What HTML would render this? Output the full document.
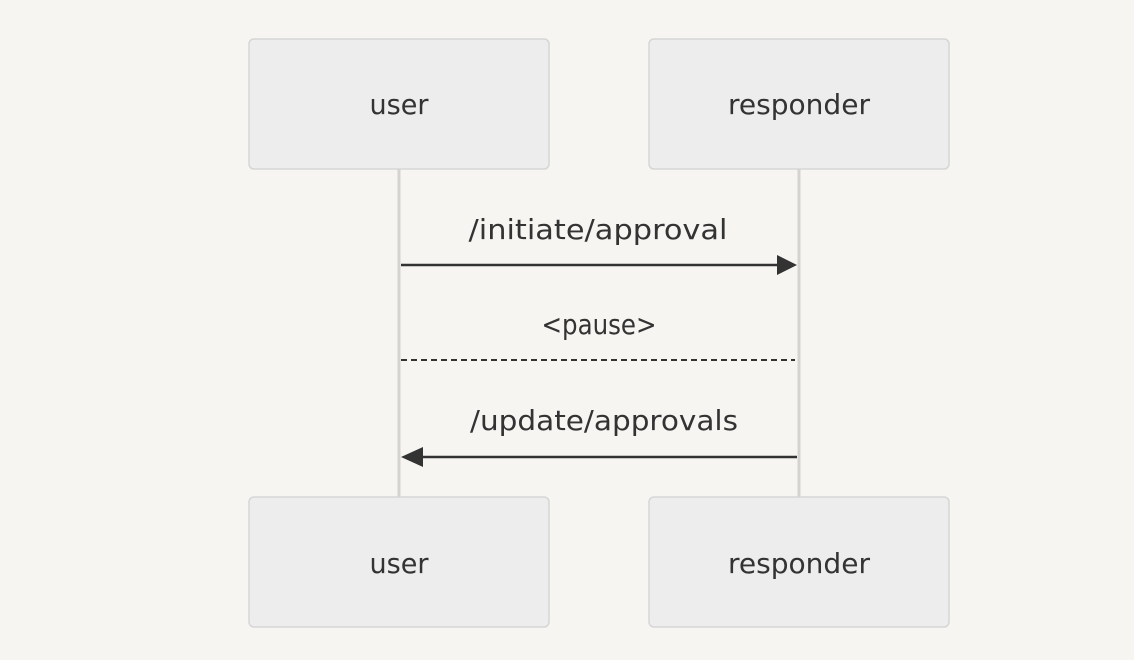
<!DOCTYPE html>
<html><head><style>
html,body{margin:0;padding:0;background:#f6f5f2;}
svg{display:block;}
text{font-family:"DejaVu Sans Condensed","DejaVu Sans","Liberation Sans",sans-serif;fill:#333;font-size:28px;}
</style></head><body>
<svg width="1134" height="660" viewBox="0 0 1134 660">
<rect width="1134" height="660" fill="#f6f5f2"/>
<line x1="399" y1="169" x2="399" y2="497" stroke="#d4d3cf" stroke-width="3"/>
<line x1="799" y1="169" x2="799" y2="497" stroke="#d4d3cf" stroke-width="3"/>
<g fill="#ededed" stroke="#d6d6d6" stroke-width="1.5">
<rect x="249" y="39" width="300" height="130" rx="5"/>
<rect x="649" y="39" width="300" height="130" rx="5"/>
<rect x="249" y="497" width="300" height="130" rx="5"/>
<rect x="649" y="497" width="300" height="130" rx="5"/>
</g>
<text x="399" y="114" text-anchor="middle" textLength="59" lengthAdjust="spacingAndGlyphs">user</text>
<text x="799" y="114" text-anchor="middle" textLength="142" lengthAdjust="spacingAndGlyphs">responder</text>
<text x="399" y="573" text-anchor="middle" textLength="59" lengthAdjust="spacingAndGlyphs">user</text>
<text x="799" y="573" text-anchor="middle" textLength="142" lengthAdjust="spacingAndGlyphs">responder</text>

<text x="598" y="239" text-anchor="middle" textLength="259" lengthAdjust="spacingAndGlyphs">/initiate/approval</text>
<line x1="401" y1="265" x2="780" y2="265" stroke="#333" stroke-width="2.5"/>
<polygon points="777,255 797,265 777,275" fill="#333"/>

<text x="599" y="334" text-anchor="middle" textLength="115" lengthAdjust="spacingAndGlyphs">&lt;pause&gt;</text>
<line x1="401" y1="360" x2="795" y2="360" stroke="#333" stroke-width="2" stroke-dasharray="6,4"/>

<text x="604" y="430" text-anchor="middle" textLength="268" lengthAdjust="spacingAndGlyphs">/update/approvals</text>
<line x1="420" y1="457" x2="797" y2="457" stroke="#333" stroke-width="2.5"/>
<polygon points="423,447 401,457 423,467" fill="#333"/>
</svg>
</body></html>
